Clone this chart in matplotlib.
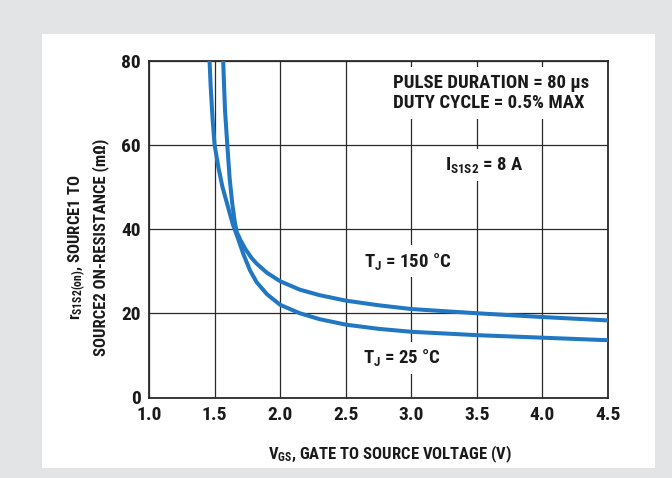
import matplotlib
matplotlib.use("Agg")
import matplotlib.pyplot as plt
from matplotlib import font_manager
from matplotlib.patches import Rectangle

# ---------------- data ----------------
vgs_25 = [1.456, 1.47, 1.485, 1.50, 1.53, 1.56, 1.60, 1.64, 1.67, 1.72, 1.77, 1.82,
          1.90, 2.00, 2.15, 2.30, 2.50, 2.75, 3.00, 3.25, 3.50, 4.00, 4.50]
r_25 = [84, 74, 66, 60, 54.5, 50, 45.5, 41, 38.5, 34, 30.2, 27.4,
        24.5, 22, 20, 18.6, 17.3, 16.3, 15.6, 15.2, 14.8, 14.2, 13.6]

vgs_150 = [1.562, 1.57, 1.58, 1.597, 1.615, 1.635, 1.655, 1.67, 1.70, 1.74, 1.78, 1.82,
           1.90, 2.00, 2.15, 2.30, 2.50, 2.75, 3.00, 3.25, 3.50, 4.00, 4.50]
r_150 = [84, 76, 68, 60, 52, 46, 41.5, 39.2, 37.2, 35.0, 33.2, 31.8,
         29.6, 27.6, 25.6, 24.3, 23.0, 21.9, 21.0, 20.5, 20.0, 19.1, 18.3]

x_ticks = [1.0, 1.5, 2.0, 2.5, 3.0, 3.5, 4.0, 4.5]
x_tick_labels = ["1.0", "1.5", "2.0", "2.5", "3.0", "3.5", "4.0", "4.5"]
y_ticks = [0, 20, 40, 60, 80]
y_tick_labels = ["0", "20", "40", "60", "80"]

# ---------------- fonts ----------------
fam, stretch = "DejaVu Sans", "normal"
prefs = ["RobotoCondensed-Bold", "LiberationSansNarrow-Bold", "DejaVuSansCondensed-Bold"]
found = {}
for f in font_manager.fontManager.ttflist:
    base = f.fname.split("/")[-1]
    for p in prefs:
        if base.startswith(p):
            found[p] = f
for p in prefs:
    if p in found:
        fam, stretch = found[p].name, found[p].stretch
        break
plt.rcParams["font.family"] = [fam, "DejaVu Sans"]
plt.rcParams["font.stretch"] = stretch
plt.rcParams["font.weight"] = "bold"
plt.rcParams["mathtext.fontset"] = "custom"
plt.rcParams["mathtext.rm"] = fam + ":bold"
plt.rcParams["mathtext.default"] = "regular"

W, H = 672, 478
fig = plt.figure(figsize=(W / 100, H / 100), dpi=100)
fig.patch.set_facecolor("#e3e4e6")
# white panel
fig.patches.append(Rectangle((42 / W, 1 - 468 / H), (655 - 42) / W, (468 - 34) / H,
                             transform=fig.transFigure, fc="white", ec="none", zorder=-5))

ax_l, ax_r, ax_t, ax_b = 149, 608, 60.5, 397.5
ax = fig.add_axes([ax_l / W, 1 - ax_b / H, (ax_r - ax_l) / W, (ax_b - ax_t) / H])
ax.set_facecolor("white")

blue = "#2277c3"
ax.plot(vgs_25, r_25, color=blue, lw=2.9, solid_capstyle="butt", zorder=4)
ax.plot(vgs_150, r_150, color=blue, lw=2.9, solid_capstyle="butt", zorder=4)

ax.set_xlim(1.0, 4.5)
ax.set_ylim(0, 80)
ax.set_xticks(x_ticks)
ax.set_xticklabels(x_tick_labels)
ax.set_yticks(y_ticks)
ax.set_yticklabels(y_tick_labels)
ax.grid(True, color="#2a2a2a", lw=0.9, zorder=1)
ax.set_axisbelow(True)
for s in ax.spines.values():
    s.set_color("#2a2a2a")
    s.set_linewidth(1.3)
ax.tick_params(axis="both", length=0, labelsize=14, colors="#1a1a1a")
ax.tick_params(axis="x", pad=6)
ax.tick_params(axis="y", pad=6)
for lab in ax.get_xticklabels() + ax.get_yticklabels():
    lab.set_fontweight("bold")

tc = "#1a1a1a"
box = dict(fc="white", ec="none", pad=4)
ax.text(2.86, 72.3, "PULSE DURATION = 80 μs\nDUTY CYCLE = 0.5% MAX", ha="left", va="center",
        fontsize=13.5, fontweight="bold", color=tc, linespacing=1.2,
        bbox=dict(fc="white", ec="none", pad=5), zorder=5)
ax.text(3.26, 55.2, r"I$_{S1S2}$ = 8 A", ha="left", va="center", fontsize=13.5,
        fontweight="bold", color=tc, bbox=box, zorder=5)
ax.text(2.64, 32.4, r"T$_{J}$ = 150 °C", ha="left", va="center", fontsize=13.5,
        fontweight="bold", color=tc, bbox=box, zorder=5)
ax.text(2.63, 9.4, r"T$_{J}$ = 25 °C", ha="left", va="center", fontsize=13.5,
        fontweight="bold", color=tc, bbox=box, zorder=5)

fig.text(390 / W, 1 - 454 / H, r"V$_{GS}$, GATE TO SOURCE VOLTAGE (V)", ha="center",
         va="center", fontsize=12, fontweight="bold", color=tc)
fig.text(88 / W, 1 - 247 / H, "r$_{S1S2(on)}$, SOURCE1 TO\nSOURCE2 ON-RESISTANCE (mΩ)",
         ha="center", va="center", rotation=90, fontsize=12, fontweight="bold",
         color=tc, linespacing=1.3)

fig.savefig("out.png", dpi=100, facecolor=fig.get_facecolor())
